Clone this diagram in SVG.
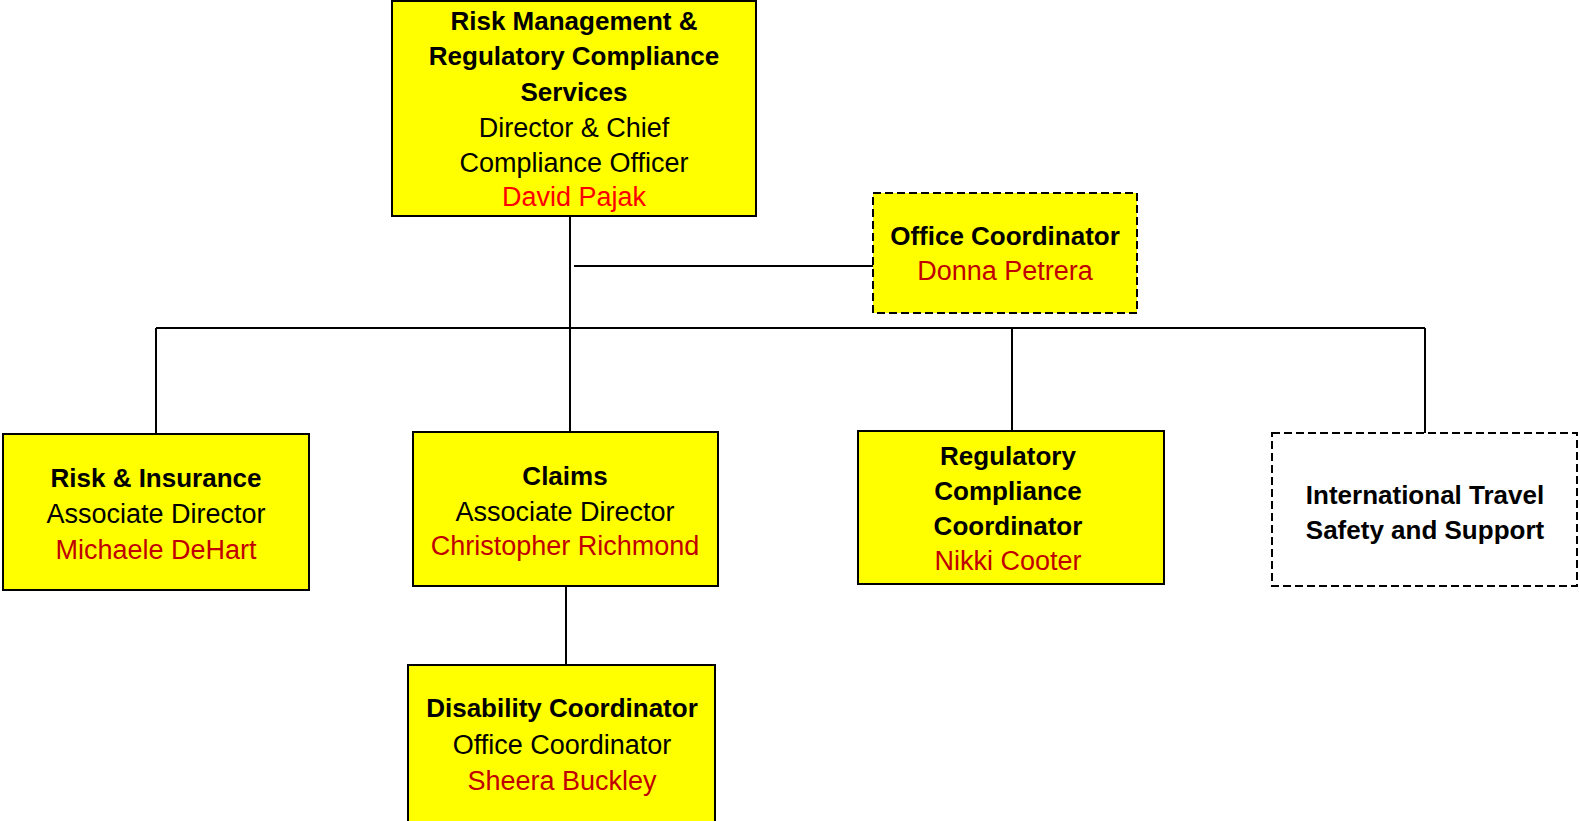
<svg xmlns="http://www.w3.org/2000/svg" width="1580" height="821" viewBox="0 0 1580 821">
<style>
.box{fill:#FFFF00;stroke:#000;stroke-width:2}
.dash{stroke-dasharray:8 4}
.plain{fill:#fff}
text{font-family:"Liberation Sans",Arial,sans-serif;text-anchor:middle}
.b{font-weight:bold;font-size:26px;fill:#000}
.r{font-size:27px;fill:#000}
.n{font-size:27px;fill:#C00000}
.n2{font-size:27px;fill:#FF0000}
.line{stroke:#000;stroke-width:2;fill:none}
</style>
<rect width="1580" height="821" fill="#fff"/>
<g id="connectors">
<line class="line" x1="570" y1="216" x2="570" y2="432"/>
<line class="line" x1="574" y1="266" x2="873" y2="266"/>
<line class="line" x1="156" y1="328" x2="1425" y2="328"/>
<line class="line" x1="156" y1="328" x2="156" y2="434"/>
<line class="line" x1="1012" y1="328" x2="1012" y2="431"/>
<line class="line" x1="1425" y1="328" x2="1425" y2="433"/>
<line class="line" x1="566" y1="586" x2="566" y2="665"/>
</g>
<g id="director">
<rect class="box" x="392" y="1" width="364" height="215"/>
<text class="b" x="574" y="30">Risk Management &amp;</text>
<text class="b" x="574" y="65">Regulatory Compliance</text>
<text class="b" x="574" y="101">Services</text>
<text class="r" x="574" y="137">Director &amp; Chief</text>
<text class="r" x="574" y="172">Compliance Officer</text>
<text class="n2" x="574" y="206">David Pajak</text>
</g>
<g id="office-coordinator">
<rect class="box dash" x="873" y="193" width="264" height="120"/>
<text class="b" x="1005" y="245">Office Coordinator</text>
<text class="n" x="1005" y="280">Donna Petrera</text>
</g>
<g id="risk-insurance">
<rect class="box" x="3" y="434" width="306" height="156"/>
<text class="b" x="156" y="487">Risk &amp; Insurance</text>
<text class="r" x="156" y="523">Associate Director</text>
<text class="n" x="156" y="559">Michaele DeHart</text>
</g>
<g id="claims">
<rect class="box" x="413" y="432" width="305" height="154"/>
<text class="b" x="565" y="485">Claims</text>
<text class="r" x="565" y="521">Associate Director</text>
<text class="n" x="565" y="555">Christopher Richmond</text>
</g>
<g id="disability">
<rect class="box" x="408" y="665" width="307" height="160"/>
<text class="b" x="562" y="717">Disability Coordinator</text>
<text class="r" x="562" y="754">Office Coordinator</text>
<text class="n" x="562" y="790">Sheera Buckley</text>
</g>
<g id="regulatory">
<rect class="box" x="858" y="431" width="306" height="153"/>
<text class="b" x="1008" y="465">Regulatory</text>
<text class="b" x="1008" y="500">Compliance</text>
<text class="b" x="1008" y="535">Coordinator</text>
<text class="n" x="1008" y="570">Nikki Cooter</text>
</g>
<g id="international">
<rect class="plain dash" x="1272" y="433" width="305" height="153" stroke="#000" stroke-width="2"/>
<text class="b" x="1425" y="504">International Travel</text>
<text class="b" x="1425" y="539">Safety and Support</text>
</g>
</svg>
